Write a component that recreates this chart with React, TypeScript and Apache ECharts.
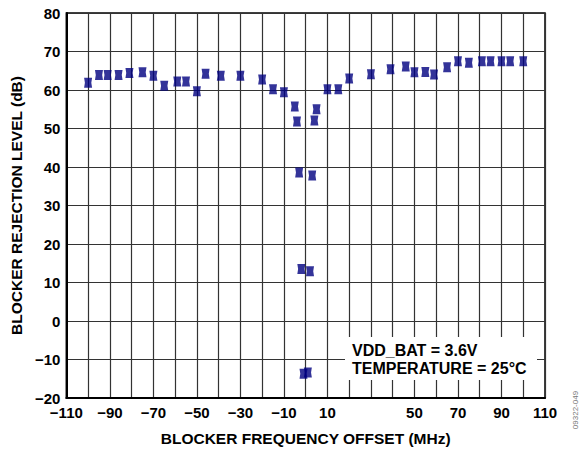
import React, { useEffect, useRef } from "react";
import * as echarts from "echarts";

const freqOffsets = [
  -100, -95, -91, -86, -81, -75, -70, -65, -59, -55, -50, -46, -39, -30, -20, -15, -10,
  -5, -4, -3, -2, -1, 1, 2, 3, 4, 5, 10, 15, 20, 30, 39, 46, 50, 55, 59, 65, 70, 75, 81,
  85, 90, 94, 100,
];
const rejection = [
  61.9, 63.9, 63.9, 63.9, 64.4, 64.6, 63.7, 61.1, 62.2, 62.2, 59.7, 64.2, 63.7, 63.7, 62.7,
  60.2, 59.4, 55.7, 51.8, 38.6, 13.5, -13.7, -13.4, 12.9, 37.8, 52.1, 55.0, 60.2, 60.2, 63.0,
  64.1, 65.4, 66.1, 64.6, 64.7, 64.0, 65.9, 67.5, 67.1, 67.5, 67.5, 67.5, 67.5, 67.5,
];
const xTickLabels = [-110, -90, -70, -50, -30, -10, 10, 50, 70, 90, 110];
const annotationLines = ["VDD_BAT = 3.6V", "TEMPERATURE = 25°C"];
const xTitle = "BLOCKER FREQUENCY OFFSET (MHz)";
const yTitle = "BLOCKER REJECTION LEVEL (dB)";
const figureId = "09322-049";

const FONT = "'Liberation Sans', Arial, sans-serif";
const fmt = (v: number) => (v < 0 ? "\u2212" + Math.abs(v) : String(v));

export default function App() {
  const ref = useRef<HTMLDivElement>(null);
  useEffect(() => {
    if (!ref.current) return;
    const chart = echarts.init(ref.current, null, { renderer: "svg" });
    const data = freqOffsets.map((x, i) => [x, rejection[i]]);
    chart.setOption({
      animation: false,
      backgroundColor: "#fff",
      textStyle: { fontFamily: FONT },
      grid: {
        left: 64,
        top: 13,
        width: 481,
        height: 385,
        show: true,
        borderColor: "#000",
        borderWidth: 1.5,
        containLabel: false,
      },
      xAxis: {
        type: "value",
        min: -110,
        max: 110,
        interval: 10,
        name: xTitle,
        nameLocation: "middle",
        nameGap: 32,
        nameTextStyle: { fontFamily: FONT, fontWeight: "bold", fontSize: 15.5, color: "#000" },
        axisLine: { show: true, onZero: false, lineStyle: { color: "#000", width: 2 } },
        axisTick: { show: false },
        axisLabel: {
          margin: 7,
          fontFamily: FONT,
          fontWeight: "bold",
          fontSize: 15,
          color: "#000",
          formatter: (v: number) => (xTickLabels.includes(v) ? fmt(v) : ""),
        },
        splitLine: { show: true, lineStyle: { color: "#333", width: 1.2 } },
      },
      yAxis: {
        type: "value",
        min: -20,
        max: 80,
        interval: 10,
        name: yTitle,
        nameLocation: "middle",
        nameGap: 38,
        nameRotate: 90,
        nameTextStyle: { fontFamily: FONT, fontWeight: "bold", fontSize: 15.5, color: "#000" },
        axisLine: { show: true, onZero: false, lineStyle: { color: "#000", width: 2 } },
        axisTick: { show: false },
        axisLabel: {
          margin: 6,
          fontFamily: FONT,
          fontWeight: "bold",
          fontSize: 15,
          color: "#000",
          formatter: (v: number) => fmt(v),
        },
        splitLine: { show: true, lineStyle: { color: "#333", width: 1.2 } },
      },
      series: [
        {
          type: "scatter",
          data,
          symbol: "path://M0,0 L8,0 L7.2,5 L8,10 L0,10 L0.8,5 Z",
          symbolSize: [8, 10],
          itemStyle: { color: "#000080" },
          z: 5,
        },
      ],
      graphic: [
        {
          type: "rect",
          shape: { x: 345, y: 337, width: 192, height: 43 },
          style: { fill: "#fff" },
          z: 10,
        },
        {
          type: "text",
          x: 352,
          y: 350,
          style: {
            text: annotationLines[0],
            font: `bold 16px ${FONT}`,
            fill: "#000",
            textVerticalAlign: "middle",
          },
          z: 11,
        },
        {
          type: "text",
          x: 352,
          y: 368,
          style: {
            text: annotationLines[1],
            font: `bold 16px ${FONT}`,
            fill: "#000",
            textVerticalAlign: "middle",
          },
          z: 11,
        },
        {
          type: "text",
          x: 575,
          y: 410,
          rotation: Math.PI / 2,
          style: {
            text: figureId,
            font: `8px ${FONT}`,
            fill: "#777",
            textAlign: "center",
            textVerticalAlign: "middle",
          },
          z: 11,
        },
      ],
    });
    return () => chart.dispose();
  }, []);
  return (
    <div
      ref={ref}
      style={{ position: "fixed", left: 0, top: 0, width: 584, height: 451, background: "#fff" }}
    />
  );
}
